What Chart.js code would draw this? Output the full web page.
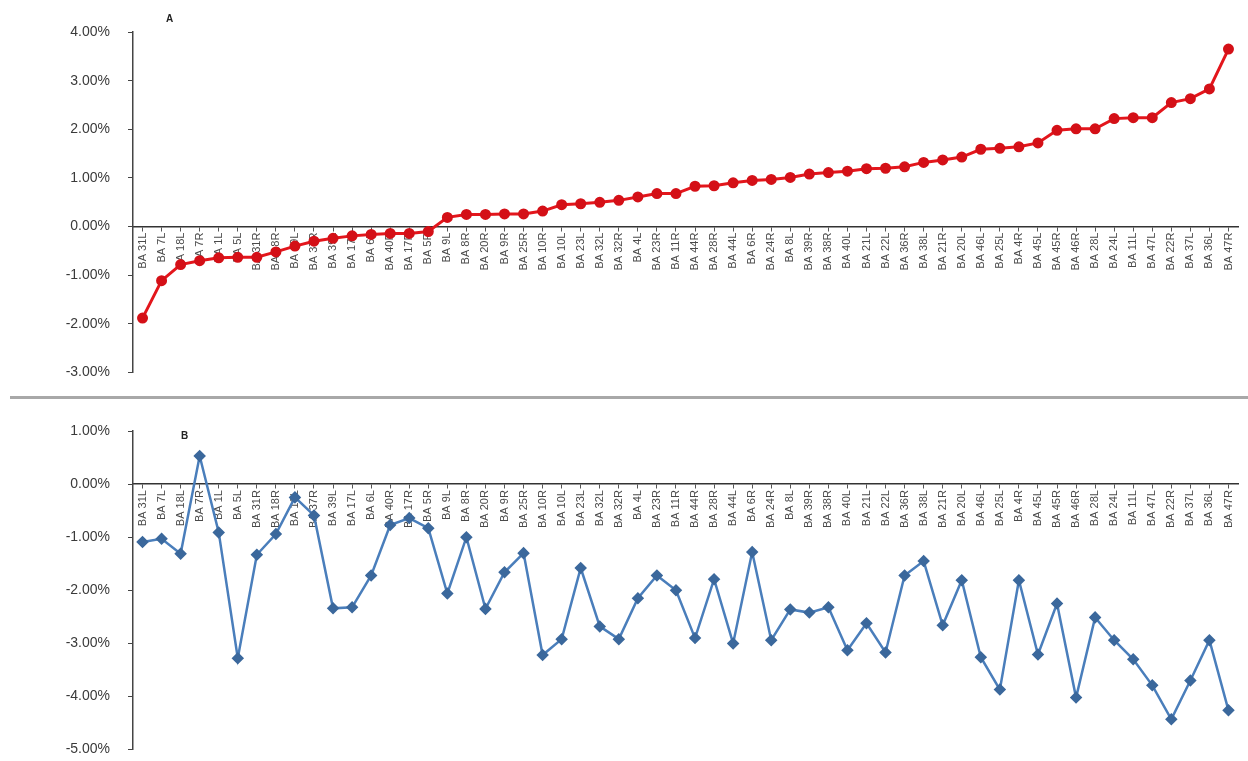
<!DOCTYPE html>
<html>
<head>
<meta charset="utf-8">
<script src="https://cdn.jsdelivr.net/npm/chart.js@4.4.1/dist/chart.umd.min.js"></script>
<style>
  body { margin: 0; background: #fff; }
  #wrap { position: relative; width: 1248px; height: 761px; overflow: hidden; }
  canvas { position: absolute; left: 0; }
  #topChart { top: 0; }
  #bottomChart { top: 400px; }
  .divider { position: absolute; left: 10px; top: 396px; width: 1238px; height: 3px; background: #a8a8a8; }
  .panel { position: absolute; font: bold 10px "Liberation Sans", Arial, sans-serif; color: #222; }
</style>
</head>
<body>
<div id="wrap">
  <canvas id="topChart" width="1248" height="399"></canvas>
  <div class="divider"></div>
  <canvas id="bottomChart" width="1248" height="376"></canvas>
  <div class="panel" style="left:166px; top:13px;">A</div>
  <div class="panel" style="left:181px; top:430px;">B</div>
</div>
<script>
const categories = [
  'BA 31L', 'BA 7L', 'BA 18L', 'BA 7R', 'BA 1L', 'BA 5L', 'BA 31R', 'BA 18R',
  'BA 19L', 'BA 37R', 'BA 39L', 'BA 17L', 'BA 6L', 'BA 40R', 'BA 17R', 'BA 5R',
  'BA 9L', 'BA 8R', 'BA 20R', 'BA 9R', 'BA 25R', 'BA 10R', 'BA 10L', 'BA 23L',
  'BA 32L', 'BA 32R', 'BA 4L', 'BA 23R', 'BA 11R', 'BA 44R', 'BA 28R', 'BA 44L',
  'BA 6R', 'BA 24R', 'BA 8L', 'BA 39R', 'BA 38R', 'BA 40L', 'BA 21L', 'BA 22L',
  'BA 36R', 'BA 38L', 'BA 21R', 'BA 20L', 'BA 46L', 'BA 25L', 'BA 4R', 'BA 45L',
  'BA 45R', 'BA 46R', 'BA 28L', 'BA 24L', 'BA 11L', 'BA 47L', 'BA 22R', 'BA 37L',
  'BA 36L', 'BA 47R'
];

// panel A, percent
const seriesA = [
  -1.88, -1.11, -0.78, -0.70, -0.64, -0.63, -0.63, -0.52, -0.40, -0.30,
  -0.24, -0.19, -0.16, -0.14, -0.14, -0.10, 0.19, 0.25, 0.25, 0.26,
  0.26, 0.32, 0.45, 0.47, 0.50, 0.54, 0.61, 0.68, 0.68, 0.83,
  0.84, 0.90, 0.95, 0.97, 1.01, 1.08, 1.11, 1.14, 1.19, 1.20,
  1.23, 1.32, 1.37, 1.43, 1.59, 1.61, 1.64, 1.72, 1.98, 2.01,
  2.01, 2.22, 2.24, 2.24, 2.55, 2.63, 2.83, 3.65
];

// panel B, percent
const seriesB = [
  -1.09, -1.03, -1.31, 0.53, -0.91, -3.28, -1.33, -0.94, -0.25, -0.59,
  -2.34, -2.32, -1.72, -0.77, -0.64, -0.83, -2.06, -1.00, -2.35, -1.66,
  -1.30, -3.22, -2.92, -1.58, -2.68, -2.92, -2.15, -1.72, -2.00, -2.90,
  -1.79, -3.00, -1.28, -2.94, -2.36, -2.42, -2.32, -3.13, -2.62, -3.17,
  -1.72, -1.45, -2.66, -1.81, -3.26, -3.87, -1.81, -3.21, -2.25, -4.02,
  -2.51, -2.94, -3.30, -3.79, -4.43, -3.70, -2.94, -4.26
];

const yTicksA = { min: -3, max: 4 };
const yTicksB = { min: -5, max: 1 };

function makeOptions(range, padding) {
  return {
    responsive: false,
    animation: false,
    devicePixelRatio: 1,
    layout: { padding: padding },
    plugins: { legend: { display: false }, tooltip: { enabled: false } },
    scales: {
      x: {
        type: 'category',
        position: { y: 0 },
        offset: true,
        afterFit: (scale) => { scale.height = 0; },
        border: { display: true, color: '#333', width: 1.5 },
        grid: { display: true, drawOnChartArea: false, drawTicks: true, tickLength: 4, color: '#555' },
        ticks: {
          autoSkip: false,
          minRotation: 90,
          maxRotation: 90,
          padding: 2,
          color: '#4a4a4a',
          font: { family: '"Liberation Sans", Arial, sans-serif', size: 11 },
        },
      },
      y: {
        min: range.min,
        max: range.max,
        afterFit: (scale) => { scale.width = 133; },
        border: { display: true, color: '#444', width: 1.5 },
        grid: { display: true, drawOnChartArea: false, drawTicks: true, tickLength: 5, color: '#444' },
        ticks: {
          stepSize: 1,
          padding: 18,
          color: '#3a3a3a',
          font: { family: '"Liberation Sans", Arial, sans-serif', size: 14 },
          callback: (v) => v.toFixed(2) + '%',
        },
      },
    },
  };
}

new Chart(document.getElementById('topChart').getContext('2d'), {
  type: 'line',
  data: {
    labels: categories,
    datasets: [{
      data: seriesA,
      borderColor: '#e3161c',
      borderWidth: 3,
      pointStyle: 'circle',
      pointRadius: 4,
      pointBackgroundColor: '#d41017',
      pointBorderColor: '#d41017',
      tension: 0,
    }],
  },
  options: makeOptions(yTicksA, { top: 32, bottom: 24, left: 0, right: 10 }),
});

new Chart(document.getElementById('bottomChart').getContext('2d'), {
  type: 'line',
  data: {
    labels: categories,
    datasets: [{
      data: seriesB,
      borderColor: '#4a7ebb',
      borderWidth: 2.5,
      pointStyle: 'rectRot',
      pointRadius: 4.5,
      pointBackgroundColor: '#3b689c',
      pointBorderColor: '#3b689c',
      tension: 0,
    }],
  },
  options: makeOptions(yTicksB, { top: 31, bottom: 13, left: 0, right: 10 }),
});
</script>
</body>
</html>
